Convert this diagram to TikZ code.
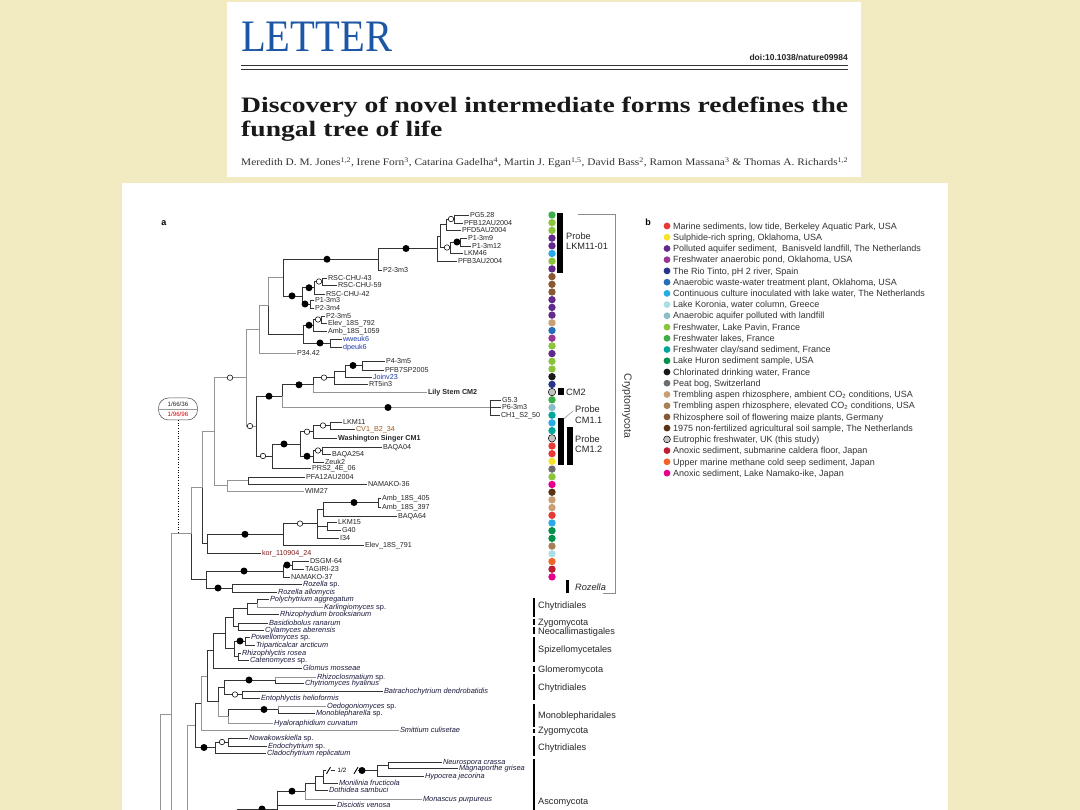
\documentclass[tikz,border=0pt]{standalone}
\usepackage{graphicx}
\usepackage{fontspec}
\setmainfont{Liberation Sans}
\newfontfamily\serif{Liberation Serif}
\definecolor{bg}{RGB}{242,234,192}
\definecolor{letterblue}{RGB}{28,86,165}
\definecolor{ink}{RGB}{25,25,60}
\definecolor{labblue}{RGB}{30,60,170}
\definecolor{labred}{RGB}{130,30,30}
\definecolor{laborange}{RGB}{165,90,30}
\definecolor{cred}{RGB}{232,58,52}
\definecolor{cyellow}{RGB}{245,228,40}
\definecolor{cpurple}{RGB}{98,42,140}
\definecolor{cviolet}{RGB}{150,55,150}
\definecolor{cnavy}{RGB}{40,52,140}
\definecolor{cblue}{RGB}{35,110,185}
\definecolor{csky}{RGB}{40,170,230}
\definecolor{clcyan}{RGB}{172,222,230}
\definecolor{cgblue}{RGB}{140,190,200}
\definecolor{clime}{RGB}{140,195,60}
\definecolor{cgreen}{RGB}{60,175,75}
\definecolor{cteal}{RGB}{0,165,155}
\definecolor{cdgreen}{RGB}{0,145,75}
\definecolor{cblack}{RGB}{25,25,25}
\definecolor{cgray}{RGB}{110,110,110}
\definecolor{ctan}{RGB}{200,160,115}
\definecolor{clbrown}{RGB}{168,128,88}
\definecolor{cbrown}{RGB}{135,88,50}
\definecolor{cdbrown}{RGB}{90,50,20}
\definecolor{clgray}{RGB}{195,195,195}
\definecolor{ccrimson}{RGB}{190,30,50}
\definecolor{corange}{RGB}{240,100,40}
\definecolor{cmagenta}{RGB}{230,0,140}
\tikzset{
 e/.style={draw=black!80, line width=0.75pt},
 eg/.style={draw=black!42, line width=0.85pt},
 lab/.style={anchor=west, inner sep=1pt, outer sep=0pt, text height=5.2pt, text depth=0pt, font=\fontsize{7.2}{8}\selectfont, text=black!85},
 blab/.style={lab, font=\fontsize{7.2}{8}\selectfont\bfseries},
 ilab/.style={lab, font=\fontsize{7.4}{8}\selectfont\itshape, text=ink},
 bdot/.style={circle, fill=black, inner sep=0pt, minimum size=7pt},
 wdot/.style={circle, draw=black, line width=0.55pt, fill=white, inner sep=0pt, minimum size=5.5pt},
 cdot/.style={circle, inner sep=0pt, minimum size=7.4pt, line width=0.5pt},
 ldot/.style={circle, inner sep=0pt, minimum size=6.8pt, line width=0.5pt},
 ltxt/.style={anchor=west, inner sep=0pt, text height=6.4pt, text depth=0pt, font=\fontsize{9}{10}\selectfont, text=black!80},
 clab/.style={anchor=west, inner sep=0pt, text height=6.6pt, text depth=0pt, font=\fontsize{9.2}{10}\selectfont, text=black!85},
 cbar/.style={line width=2.6pt, black},
}
\newcommand\br[3][e]{\draw[#1] (#2) |- (#3);}
\begin{document}
\begin{tikzpicture}[x=1pt,y=-1pt]
\useasboundingbox (0,0) rectangle (1080,810);
\fill[bg] (0,0) rectangle (1080,810);
% ---------- header ----------
\fill[white] (227,2) rectangle (861,177);
\node[anchor=base west, inner sep=0pt, text=letterblue] (letter) at (241,52) {\resizebox{151pt}{\height}{\serif\fontsize{45}{45}\selectfont LETTER}};
\node[anchor=base east, inner sep=0pt, font=\fontsize{8.5}{9}\selectfont\bfseries, text=black!85] (doi) at (848,61) {doi:10.1038/nature09984};
\draw[line width=1.3pt, black!80] (241,65.5) -- (848,65.5);
\draw[line width=0.5pt, black!80] (241,68.8) -- (848,68.8);
\node[anchor=north west, inner sep=0pt, text=black!90] (title) at (241,95.2) {\resizebox{607pt}{\height}{\serif\bfseries\fontsize{22}{24.4}\selectfont\begin{tabular}{@{}l@{}}Discovery of novel intermediate forms redefines the\\ fungal tree of life\end{tabular}}};
\node[anchor=base west, inner sep=0pt, text=black!80] (auth) at (241,166) {\resizebox{607pt}{\height}{\serif\fontsize{10}{12}\selectfont Meredith D. M. Jones\textsuperscript{1,2}, Irene Forn\textsuperscript{3}, Catarina Gadelha\textsuperscript{4}, Martin J. Egan\textsuperscript{1,5}, David Bass\textsuperscript{2}, Ramon Massana\textsuperscript{3} \& Thomas A. Richards\textsuperscript{1,2}}};
% ---------- panel ----------
\fill[white] (122,183) rectangle (948,812);
\node[font=\fontsize{9}{10}\selectfont\bfseries] (pa) at (164,223) {a};
\node[font=\fontsize{9}{10}\selectfont\bfseries] (pb) at (648,222) {b};
% ---------- internal nodes ----------
\coordinate (Cc) at (454,219); \coordinate (C) at (446,224.5);
\coordinate (E) at (460,242); \coordinate (D) at (450,247.5);
\coordinate (B) at (440,236); \coordinate (A) at (437,248.5);
\coordinate (F) at (378,259.25);
\coordinate (L) at (322,281.5); \coordinate (J) at (314,287.75);
\coordinate (K) at (310,304); \coordinate (H) at (302,295.9);
\coordinate (G) at (283,277.6);
\coordinate (O1) at (321,319.5); \coordinate (O) at (313,325.25);
\coordinate (P) at (330,343); \coordinate (N) at (303,334.1);
\coordinate (M) at (268,305.9); \coordinate (Q) at (259,329.4);
\coordinate (W) at (362,365.5); \coordinate (V2) at (345,371.25);
\coordinate (V) at (334,377.6); \coordinate (T1) at (313,384.8);
\coordinate (GG) at (490,407.5); \coordinate (T) at (282,396.2);
\coordinate (U4) at (330,425.5); \coordinate (U2) at (313,431.75);
\coordinate (U5) at (322,450.5); \coordinate (U3) at (313,456.25);
\coordinate (U1) at (300,444); \coordinate (U) at (272,456);
\coordinate (S) at (256,426.1); \coordinate (R) at (246,377.7);
\coordinate (Y1) at (248,480.5); \coordinate (Y) at (227,485.75);
\coordinate (X) at (214,431.7);
\coordinate (AG) at (378,502.5); \coordinate (AE) at (323,509.25);
\coordinate (AF) at (327,526); \coordinate (AC) at (317,523.6);
\coordinate (AB) at (283,534.3); \coordinate (AA) at (207,543.7);
\coordinate (Z) at (202,487.7);
\coordinate (AK) at (292,565); \coordinate (AI) at (283,571);
\coordinate (AJ) at (232,588); \coordinate (AH) at (206,579.5);
\coordinate (Cr) at (191,533.6);
\coordinate (B1) at (171,714); \coordinate (B1b) at (171,812);
\coordinate (B0) at (160,714); \coordinate (B0b) at (160,812);
% fungi
\coordinate (nPK) at (257,603); \coordinate (nPKR) at (247,608.5);
\coordinate (nBC) at (238,626.5); \coordinate (n1) at (233,617.5);
\coordinate (nPT) at (245,641); \coordinate (nRC) at (238,656.5);
\coordinate (nS) at (234,648.75); \coordinate (n2) at (225,633.1);
\coordinate (n3) at (213,650.5);
\coordinate (nRCh) at (275,680); \coordinate (nBE) at (242,694.5);
\coordinate (n4) at (224,687.25);
\coordinate (nOM) at (278,709.5); \coordinate (n5) at (228,716.25);
\coordinate (n6) at (218,701.75); \coordinate (n7) at (207,676.1);
\coordinate (n8) at (201,703);
\coordinate (nNE) at (228,742); \coordinate (n9) at (215,747.5);
\coordinate (n10) at (195,725.25);
\coordinate (n11) at (187,725.25); \coordinate (n11b) at (187,812);
\coordinate (nNM) at (388,765); \coordinate (nNMH) at (377,770.5);
\coordinate (nA1) at (323,776.75); \coordinate (nA2) at (315,783.4);
\coordinate (nA3) at (305,791.2); \coordinate (nA4) at (277,809);
\coordinate (nA4b) at (277,812);
\coordinate (nA5) at (237,809); \coordinate (nA5b) at (237,812);
% ---------- leaves ----------
\node[lab] (l1) at (469,215) {PG5.28};
\node[lab] (l2) at (463,223) {PFB12AU2004};
\node[lab] (l3) at (461,230) {PFD5AU2004};
\node[lab] (l4) at (467,238) {P1-3m9};
\node[lab] (l5) at (471,246) {P1-3m12};
\node[lab] (l6) at (463,253) {LKM46};
\node[lab] (l7) at (457,261) {PFB3AU2004};
\node[lab] (l8) at (382,270) {P2-3m3};
\node[lab] (l9) at (327,278) {RSC-CHU-43};
\node[lab] (l10) at (337,285) {RSC-CHU-59};
\node[lab] (l11) at (325,294) {RSC-CHU-42};
\node[lab] (l12) at (314,300) {P1-3m3};
\node[lab] (l13) at (314,308) {P2-3m4};
\node[lab] (l14) at (325,316) {P2-3m5};
\node[lab] (l15) at (327,323) {Elev\_18S\_792};
\node[lab] (l16) at (327,331) {Amb\_18S\_1059};
\node[lab, text=labblue] (l17) at (342,339) {wweuk6};
\node[lab, text=labblue] (l18) at (342,347) {dpeuk6};
\node[lab] (l19) at (296,353) {P34.42};
\node[lab] (l20) at (385,361) {P4-3m5};
\node[lab] (l21) at (384,370) {PFB7SP2005};
\node[lab, text=labblue] (l22) at (372,377) {Joinv23};
\node[lab] (l23) at (368,384) {RT5in3};
\node[blab] (l24) at (427,392) {Lily Stem CM2};
\node[lab] (l25) at (501,400) {G5.3};
\node[lab] (l26) at (501,407) {P6-3m3};
\node[lab] (l27) at (500,415) {CH1\_S2\_50};
\node[lab] (l28) at (342,422) {LKM11};
\node[lab, text=laborange] (l29) at (355,429) {CV1\_B2\_34};
\node[blab] (l30) at (337,438) {Washington Singer CM1};
\node[lab] (l31) at (382,447) {BAQA04};
\node[lab] (l32) at (331,454) {BAQA254};
\node[lab] (l33) at (324,462) {Zeuk2};
\node[lab] (l34) at (311,468) {PRS2\_4E\_06};
\node[lab] (l35) at (305,477) {PFA12AU2004};
\node[lab] (l36) at (367,484) {NAMAKO-36};
\node[lab] (l37) at (304,491) {WIM27};
\node[lab] (l38) at (381,498) {Amb\_18S\_405};
\node[lab] (l39) at (381,507) {Amb\_18S\_397};
\node[lab] (l40) at (397,516) {BAQA64};
\node[lab] (l41) at (337,522) {LKM15};
\node[lab] (l42) at (341,530) {G40};
\node[lab] (l43) at (339,538) {I34};
\node[lab] (l44) at (364,545) {Elev\_18S\_791};
\node[lab, text=labred] (l45) at (261,553) {kor\_110904\_24};
\node[lab] (l46) at (309,561) {DSGM-64};
\node[lab] (l47) at (304,569) {TAGIRI-23};
\node[lab] (l48) at (290,577) {NAMAKO-37};
\node[ilab] (l49) at (302,584) {Rozella \upshape sp.};
\node[ilab] (l50) at (277,592) {Rozella allomycis};
% fungi leaves
\node[ilab] (f1) at (269,599) {Polychytrium aggregatum};
\node[ilab] (f2) at (323,607) {Karlingiomyces \upshape sp.};
\node[ilab] (f3) at (279,614) {Rhizophydium brooksianum};
\node[ilab] (f4) at (268,623) {Basidiobolus ranarum};
\node[ilab] (f5) at (264,630) {Cylamyces aberensis};
\node[ilab] (f6) at (250,637) {Powellomyces \upshape sp.};
\node[ilab] (f7) at (255,645) {Triparticalcar arcticum};
\node[ilab] (f8) at (241,653) {Rhizophlyctis rosea};
\node[ilab] (f9) at (249,660) {Catenomyces \upshape sp.};
\node[ilab] (f10) at (302,668) {Glomus mosseae};
\node[ilab] (f11) at (316,677) {Rhizoclosmatium \upshape sp.};
\node[ilab] (f12) at (304,683) {Chytriomyces hyalinus};
\node[ilab] (f13) at (383,691) {Batrachochytrium dendrobatidis};
\node[ilab] (f14) at (260,698) {Entophlyctis helioformis};
\node[ilab] (f15) at (326,706) {Oedogoniomyces \upshape sp.};
\node[ilab] (f16) at (315,713) {Monoblepharella \upshape sp.};
\node[ilab] (f17) at (273,723) {Hyaloraphidium curvatum};
\node[ilab] (f18) at (399,730) {Smittium culisetae};
\node[ilab] (f19) at (248,738) {Nowakowskiella \upshape sp.};
\node[ilab] (f20) at (267,746) {Endochytrium \upshape sp.};
\node[ilab] (f21) at (266,753) {Cladochytrium replicatum};
\node[ilab] (f22) at (442,762) {Neurospora crassa};
\node[ilab] (f23) at (458,768) {Magnaporthe grisea};
\node[ilab] (f24) at (424,776) {Hypocrea jecorina};
\node[ilab] (f25) at (338,783) {Monilinia fructicola};
\node[ilab] (f26) at (328,790) {Dothidea sambuci};
\node[ilab] (f27) at (422,799) {Monascus purpureus};
\node[ilab] (f28) at (336,805) {Disciotis venosa};
% ---------- branches ----------
\br{Cc}{l1.west} \br{Cc}{l2.west}
\br{C}{Cc} \br{C}{l3.west}
\br{E}{l4.west} \br{E}{l5.west}
\br{D}{E} \br{D}{l6.west}
\br{B}{C} \br{B}{D}
\br{A}{B} \br{A}{l7.west}
\br{F}{A} \br{F}{l8.west}
\br{L}{l9.west} \br{L}{l10.west}
\br{J}{L} \br{J}{l11.west}
\br{K}{l12.west} \br{K}{l13.west}
\br{H}{J} \br{H}{K}
\br{G}{F} \br{G}{H}
\br{O1}{l14.west} \br{O1}{l15.west}
\br{O}{O1} \br{O}{l16.west}
\br{P}{l17.west} \br{P}{l18.west}
\br{N}{O} \br{N}{P}
\br[eg]{M}{G} \br{M}{N}
\br[eg]{Q}{M} \br[eg]{Q}{l19.west}
\br{W}{l20.west} \br{W}{l21.west}
\br{V2}{W} \br{V2}{l22.west}
\br{V}{V2} \br{V}{l23.west}
\br{T1}{V} \br[eg]{T1}{l24.west}
\br{GG}{l25.west} \br{GG}{l26.west} \br{GG}{l27.west}
\br{T}{T1} \br[eg]{T}{GG}
\br{U4}{l28.west} \br{U4}{l29.west}
\br{U2}{U4} \br{U2}{l30.west}
\br{U5}{l31.west} \br{U5}{l32.west}
\br{U3}{U5} \br{U3}{l33.west}
\br{U1}{U2} \br{U1}{U3}
\br{U}{U1} \br{U}{l34.west}
\br{S}{T} \br{S}{U}
\br[eg]{R}{Q} \br[eg]{R}{S}
\br{Y1}{l35.west} \br{Y1}{l36.west}
\br[eg]{Y}{Y1} \br[eg]{Y}{l37.west}
\br[eg]{X}{R} \br[eg]{X}{Y}
\br{AG}{l38.west} \br{AG}{l39.west}
\br{AE}{AG} \br{AE}{l40.west}
\br{AF}{l41.west} \br{AF}{l42.west}
\br{AC}{AE} \br{AC}{AF} \br{AC}{l43.west}
\br{AB}{AC} \br{AB}{l44.west}
\br{AA}{AB} \br{AA}{l45.west}
\br[eg]{Z}{X} \br{Z}{AA}
\br{AK}{l46.west} \br{AK}{l47.west}
\br{AI}{AK} \br{AI}{l48.west}
\br{AJ}{l49.west} \br{AJ}{l50.west}
\br{AH}{AI} \br{AH}{AJ}
\br[eg]{Cr}{Z} \br{Cr}{AH}
\br[eg]{B1}{Cr} \draw[eg] (B1) -- (B1b);
\draw[eg] (B0) -- (B1); \draw[eg] (B0) -- (B0b);
% fungi branches
\br{nPK}{f1.west} \br[eg]{nPK}{f2.west}
\br{nPKR}{nPK} \br{nPKR}{f3.west}
\br{nBC}{f4.west} \br{nBC}{f5.west}
\br{n1}{nPKR} \br{n1}{nBC}
\br{nPT}{f6.west} \br{nPT}{f7.west}
\br{nRC}{f8.west} \br{nRC}{f9.west}
\br{nS}{nPT} \br{nS}{nRC}
\br{n2}{n1} \br{n2}{nS}
\br{n3}{n2} \br{n3}{f10.west}
\br[eg]{nRCh}{f11.west} \br{nRCh}{f12.west}
\br{nBE}{f13.west} \br{nBE}{f14.west}
\br{n4}{nRCh} \br{n4}{nBE}
\br[eg]{nOM}{f15.west} \br{nOM}{f16.west}
\br{n5}{nOM} \br[eg]{n5}{f17.west}
\br{n6}{n4} \br[eg]{n6}{n5}
\br{n7}{n3} \br{n7}{n6}
\br[eg]{n8}{n7} \br[eg]{n8}{f18.west}
\br{nNE}{f19.west} \br{nNE}{f20.west}
\br{n9}{nNE} \br{n9}{f21.west}
\br{n10}{n8} \br{n10}{n9}
\draw[eg] (n11) -- (n10); \draw[eg] (n11) -- (n11b);
\br{nNM}{f22.west} \br{nNM}{f23.west}
\br{nNMH}{nNM} \br{nNMH}{f24.west}
\coordinate (bk1) at (326,770.5); \coordinate (bk2) at (331,770.5);
\coordinate (bk3) at (335,770.5); \coordinate (bk4) at (358,770.5);
\br{nA1}{bk1} \draw[e] (bk2) -- (bk3); \draw[e] (bk4) -- (nNMH);
\draw[line width=0.9pt] (326.5,773.8) -- (330.5,767.2);
\draw[line width=0.9pt] (354,773.8) -- (358,767.2);
\node[inner sep=0pt, font=\fontsize{6.2}{7}\selectfont] (half) at (342,770.5) {1/2};
\br{nA1}{f25.west}
\br{nA2}{nA1} \br{nA2}{f26.west}
\br{nA3}{nA2} \br[eg]{nA3}{f27.west}
\br{nA4}{nA3} \br{nA4}{f28.west} \draw[e] (nA4) -- (nA4b);
\draw[e] (nA5) -- (nA4); \draw[e] (nA5) -- (nA5b);
% ---------- support dots ----------
\node[wdot] (d1) at (451,219) {};
\node[bdot] (d2) at (457,242) {};
\node[wdot] (d3) at (447,247.5) {};
\node[bdot] (d4) at (406,248.5) {};
\node[bdot] (d5) at (327,259.25) {};
\node[wdot] (d6) at (319,281.5) {};
\node[bdot] (d7) at (309,287.75) {};
\node[bdot] (d8) at (305,304) {};
\node[bdot] (d9) at (292,295.9) {};
\node[wdot] (d10) at (318,319.5) {};
\node[bdot] (d11) at (309,325.25) {};
\node[bdot] (d12) at (320,343) {};
\node[bdot] (d13) at (353,365.5) {};
\node[wdot] (d14) at (324,377.6) {};
\node[bdot] (d15) at (299,384.8) {};
\node[bdot] (d16) at (388,407.5) {};
\node[bdot] (d17) at (269,396.2) {};
\node[wdot] (d18) at (323,425.5) {};
\node[wdot] (d19) at (307,431.75) {};
\node[wdot] (d20) at (318,450.5) {};
\node[bdot] (d21) at (307,456.25) {};
\node[bdot] (d22) at (284,444) {};
\node[wdot] (d23) at (263,456) {};
\node[wdot] (d24) at (250,426.1) {};
\node[wdot] (d25) at (230,377.7) {};
\node[bdot] (d26) at (354,502.5) {};
\node[wdot] (d27) at (300,523.6) {};
\node[bdot] (d28) at (245,534.3) {};
\node[bdot] (d29) at (287,565) {};
\node[bdot] (d30) at (244,571) {};
\node[bdot] (d31) at (218,588) {};
\node[bdot] (d32) at (240,641) {};
\node[bdot] (d33) at (249,680) {};
\node[wdot] (d34) at (235,694.5) {};
\node[bdot] (d35) at (264,709.5) {};
\node[wdot] (d36) at (222,742) {};
\node[bdot] (d37) at (204,747.5) {};
\node[bdot] (d38) at (362,770.5) {};
\node[bdot] (d39) at (292,791.2) {};
\node[bdot] (d40) at (262,809) {};
% ---------- support box ----------
\node[draw=black!70, line width=0.5pt, rounded corners=10pt, minimum width=39pt, minimum height=22pt, inner sep=0pt] (sup) at (178,409) {};
\draw[black!40, line width=0.4pt] (sup.west) -- (sup.east);
\node[inner sep=0pt, font=\fontsize{6.2}{7}\selectfont, text=black!85] (s1) at (178,404) {1/66/36};
\node[inner sep=0pt, font=\fontsize{6.2}{7}\selectfont, text=red!85!black] (s2) at (178,414.5) {1/96/96};
\coordinate (supend) at (178,533.6);
\draw[dotted, line width=0.6pt] (sup.south) -- (supend);
% ---------- column of environment dots ----------
\foreach \c/\o [count=\i from 0] in {cgreen/none, clime/none, clime/none, cpurple/none, cpurple/none, csky/none, clime/none, cpurple/none, cbrown/none, cbrown/none, cbrown/none, cpurple/none, cpurple/none, cpurple/none, ctan/none, cblue/none, cviolet/none, clime/none, cpurple/none, clime/none, clime/none, cblack/none, cnavy/none, clgray/black, cgreen/none, cgblue/none, cteal/none, csky/none, cteal/none, clgray/black, cred/none, cred/none, cyellow/none, cgray/none, clime/none, cmagenta/none, cdbrown/none, ctan/none, ctan/none, cred/none, csky/none, cdgreen/none, cdgreen/none, clbrown/none, clcyan/none, corange/none, ccrimson/none, cmagenta/none}
  {\node[cdot, fill=\c, draw=\o] (k\i) at (552,{215+\i*7.7}) {};}
% ---------- probes ----------
\fill[black] (557,213) rectangle (563,273);
\node[clab] (pr1) at (566,236) {Probe};
\node[clab] (pr2) at (566,246) {LKM11-01};
\fill[black] (558,388.5) rectangle (564,395.5);
\node[clab] (cm2) at (566,392) {CM2};
\fill[black] (558,418) rectangle (564,465);
\fill[black] (567,427) rectangle (573,465);
\draw[black!45, line width=0.5pt] (563.3,419.3) -- (573.3,410.7);
\node[clab] (pr3) at (575,409.3) {Probe};
\node[clab] (pr4) at (575,420.7) {CM1.1};
\node[clab] (pr5) at (575,439) {Probe};
\node[clab] (pr6) at (575,449) {CM1.2};
\fill[black] (566,580) rectangle (568.7,593);
\node[clab, font=\fontsize{9.2}{10}\selectfont\itshape] (roz) at (575,587) {Rozella};
\draw[black!45, line width=0.9pt] (578,214) -- (615,214) -- (615,593) -- (603,593);
\node[rotate=-90, inner sep=0pt, font=\fontsize{10.5}{11}\selectfont, text=black!80] (crypto) at (627,406) {Cryptomycota};
% ---------- clade bars ----------
\draw[cbar] (534,598) -- (534,617);
\node[clab] (c1) at (538,605) {Chytridiales};
\draw[cbar] (534,619) -- (534,625);
\node[clab] (c2) at (538,622) {Zygomycota};
\draw[cbar] (534,627) -- (534,634);
\node[clab] (c3) at (538,631) {Neocallimastigales};
\draw[cbar] (534,637) -- (534,662);
\node[clab] (c4) at (538,649) {Spizellomycetales};
\draw[cbar] (534,666) -- (534,672);
\node[clab] (c5) at (538,669) {Glomeromycota};
\draw[cbar] (534,674) -- (534,700);
\node[clab] (c6) at (538,687) {Chytridiales};
\draw[cbar] (534,704) -- (534,727);
\node[clab] (c7) at (538,715) {Monoblepharidales};
\draw[cbar] (534,728.5) -- (534,733);
\node[clab] (c8) at (538,730) {Zygomycota};
\draw[cbar] (534,736) -- (534,756);
\node[clab] (c9) at (538,747) {Chytridiales};
\draw[cbar] (534,759) -- (534,812);
\node[clab] (c10) at (538,801) {Ascomycota};
% ---------- legend ----------
\node[ldot, fill=cred] (ld1) at (667,226) {};
\node[ltxt] (lg1) at (673,226) {Marine sediments, low tide, Berkeley Aquatic Park, USA};
\node[ldot, fill=cyellow] (ld2) at (667,237.2) {};
\node[ltxt] (lg2) at (673,237.2) {Sulphide-rich spring, Oklahoma, USA};
\node[ldot, fill=cpurple] (ld3) at (667,248.5) {};
\node[ltxt] (lg3) at (673,248.5) {Polluted aquifer sediment,\ \ Banisveld landfill, The Netherlands};
\node[ldot, fill=cviolet] (ld4) at (667,259.7) {};
\node[ltxt] (lg4) at (673,259.7) {Freshwater anaerobic pond, Oklahoma, USA};
\node[ldot, fill=cnavy] (ld5) at (667,270.9) {};
\node[ltxt] (lg5) at (673,270.9) {The Rio Tinto, pH 2 river, Spain};
\node[ldot, fill=cblue] (ld6) at (667,282.2) {};
\node[ltxt] (lg6) at (673,282.2) {Anaerobic waste-water treatment plant, Oklahoma, USA};
\node[ldot, fill=csky] (ld7) at (667,293.4) {};
\node[ltxt] (lg7) at (673,293.4) {Continuous culture inoculated with lake water, The Netherlands};
\node[ldot, fill=clcyan] (ld8) at (667,304.6) {};
\node[ltxt] (lg8) at (673,304.6) {Lake Koronia, water column, Greece};
\node[ldot, fill=cgblue] (ld9) at (667,315.8) {};
\node[ltxt] (lg9) at (673,315.8) {Anaerobic aquifer polluted with landfill};
\node[ldot, fill=clime] (ld10) at (667,327.1) {};
\node[ltxt] (lg10) at (673,327.1) {Freshwater, Lake Pavin, France};
\node[ldot, fill=cgreen] (ld11) at (667,338.3) {};
\node[ltxt] (lg11) at (673,338.3) {Freshwater lakes, France};
\node[ldot, fill=cteal] (ld12) at (667,349.5) {};
\node[ltxt] (lg12) at (673,349.5) {Freshwater clay/sand sediment, France};
\node[ldot, fill=cdgreen] (ld13) at (667,360.8) {};
\node[ltxt] (lg13) at (673,360.8) {Lake Huron sediment sample, USA};
\node[ldot, fill=cblack] (ld14) at (667,372) {};
\node[ltxt] (lg14) at (673,372) {Chlorinated drinking water, France};
\node[ldot, fill=cgray] (ld15) at (667,383.2) {};
\node[ltxt] (lg15) at (673,383.2) {Peat bog, Switzerland};
\node[ldot, fill=ctan] (ld16) at (667,394.5) {};
\node[ltxt] (lg16) at (673,394.5) {Trembling aspen rhizosphere, ambient CO\textsubscript{2} conditions, USA};
\node[ldot, fill=clbrown] (ld17) at (667,405.7) {};
\node[ltxt] (lg17) at (673,405.7) {Trembling aspen rhizosphere, elevated CO\textsubscript{2} conditions, USA};
\node[ldot, fill=cbrown] (ld18) at (667,416.9) {};
\node[ltxt] (lg18) at (673,416.9) {Rhizosphere soil of flowering maize plants, Germany};
\node[ldot, fill=cdbrown] (ld19) at (667,428.1) {};
\node[ltxt] (lg19) at (673,428.1) {1975 non-fertilized agricultural soil sample, The Netherlands};
\node[ldot, fill=clgray, draw=black] (ld20) at (667,439.4) {};
\node[ltxt] (lg20) at (673,439.4) {Eutrophic freshwater, UK (this study)};
\node[ldot, fill=ccrimson] (ld21) at (667,450.6) {};
\node[ltxt] (lg21) at (673,450.6) {Anoxic sediment, submarine caldera floor, Japan};
\node[ldot, fill=corange] (ld22) at (667,461.8) {};
\node[ltxt] (lg22) at (673,461.8) {Upper marine methane cold seep sediment, Japan};
\node[ldot, fill=cmagenta] (ld23) at (667,473.1) {};
\node[ltxt] (lg23) at (673,473.1) {Anoxic sediment, Lake Namako-ike, Japan};
\end{tikzpicture}
\end{document}
